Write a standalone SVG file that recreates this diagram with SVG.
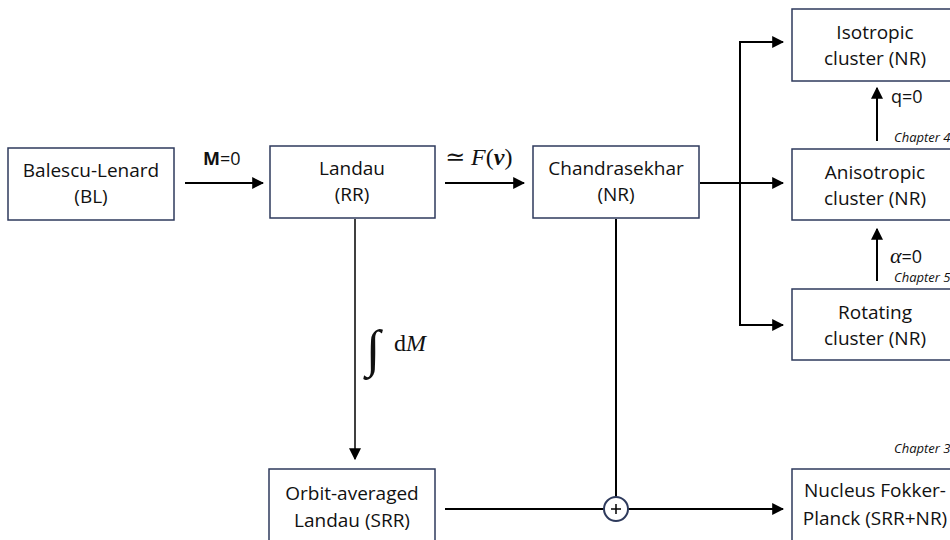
<svg xmlns="http://www.w3.org/2000/svg" width="950" height="540" viewBox="0 0 950 540">
<style>
.box{fill:#fff;stroke:#2e3a5c;stroke-width:1.5}
.t{font-family:"Open Sans","Liberation Sans",sans-serif;font-size:19px;fill:#111;text-anchor:middle}
.lbl{font-family:"Open Sans","Liberation Sans",sans-serif;font-size:18px;fill:#111}
.ch{font-family:"Open Sans","Liberation Sans",sans-serif;font-size:13px;font-style:italic;fill:#111}
.m{font-family:"Liberation Serif","DejaVu Serif",serif;fill:#111}
.ln{fill:none;stroke:#000;stroke-width:2}
.thin{fill:none;stroke:#000;stroke-width:1.5}
</style>
<defs>
<marker id="ah" viewBox="0 0 10 10" refX="9" refY="5" markerWidth="6" markerHeight="6" orient="auto" markerUnits="strokeWidth">
<path d="M0,0 L10,5 L0,10 z" fill="#000"/>
</marker>
<marker id="ahs" viewBox="0 0 10 10" refX="9" refY="5" markerWidth="8" markerHeight="8" orient="auto" markerUnits="strokeWidth">
<path d="M0,0 L10,5 L0,10 z" fill="#000"/>
</marker>
</defs>
<rect width="950" height="540" fill="#fff"/>
<g id="connectors">
<line class="ln" x1="185" y1="183" x2="263" y2="183" marker-end="url(#ah)"/>
<line class="ln" x1="445" y1="183" x2="524" y2="183" marker-end="url(#ah)"/>
<line class="ln" x1="700" y1="183" x2="783" y2="183" marker-end="url(#ah)"/>
<polyline class="ln" points="740,325 740,42 783,42" marker-end="url(#ah)"/>
<polyline class="ln" points="740,183 740,325 783,325" marker-end="url(#ah)"/>
<line class="ln" x1="877" y1="141" x2="877" y2="88" marker-end="url(#ah)"/>
<line class="ln" x1="877" y1="281" x2="877" y2="229" marker-end="url(#ah)"/>
<line class="thin" x1="355" y1="219" x2="355" y2="459" marker-end="url(#ahs)"/>
<line class="ln" x1="616" y1="219" x2="616" y2="497"/>
<line class="ln" x1="445" y1="509" x2="604" y2="509"/>
<line class="ln" x1="628" y1="509" x2="783" y2="509" marker-end="url(#ah)"/>
<g id="sum">
<circle cx="616" cy="509" r="12" fill="#fff" stroke="#2e3a5c" stroke-width="2"/>
<line x1="611" y1="509" x2="621" y2="509" stroke="#000" stroke-width="1.5"/>
<line x1="616" y1="504" x2="616" y2="514" stroke="#000" stroke-width="1.5"/>
</g>
<text class="lbl" x="203" y="165"><tspan font-weight="bold">M</tspan>=0</text>
<text class="m" x="445" y="165" font-size="24">≃ <tspan font-style="italic">F</tspan>(<tspan font-style="italic" font-weight="bold">v</tspan>)</text>
<text class="m" x="366" y="366" font-size="52" font-style="italic">∫</text>
<text class="m" x="394" y="351" font-size="24">d<tspan font-style="italic">M</tspan></text>
<text class="lbl" x="891" y="103">q=0</text>
<text class="ch" x="894" y="142">Chapter 4</text>
<text class="lbl" x="890" y="263"><tspan class="m" font-style="italic" font-size="22">α</tspan>=0</text>
<text class="ch" x="894" y="282">Chapter 5</text>
<text class="ch" x="894" y="453">Chapter 3</text>
</g>
<g id="bl"><rect class="box" x="8" y="148" width="166" height="72"/><text class="t" x="91" y="177">Balescu-Lenard</text><text class="t" x="91" y="203">(BL)</text></g>
<g id="landau"><rect class="box" x="270" y="146" width="165" height="72"/><text class="t" x="352" y="175">Landau</text><text class="t" x="352" y="201">(RR)</text></g>
<g id="chandra"><rect class="box" x="533" y="146" width="166" height="72"/><text class="t" x="616" y="175">Chandrasekhar</text><text class="t" x="616" y="201">(NR)</text></g>
<g id="iso"><rect class="box" x="792" y="9" width="166" height="72"/><text class="t" x="875" y="39">Isotropic</text><text class="t" x="875" y="65">cluster (NR)</text></g>
<g id="aniso"><rect class="box" x="792" y="149" width="166" height="71"/><text class="t" x="875" y="179">Anisotropic</text><text class="t" x="875" y="205">cluster (NR)</text></g>
<g id="rot"><rect class="box" x="792" y="289" width="166" height="71"/><text class="t" x="875" y="319">Rotating</text><text class="t" x="875" y="345">cluster (NR)</text></g>
<g id="orbit"><rect class="box" x="269" y="469" width="166" height="80"/><text class="t" x="352" y="500">Orbit-averaged</text><text class="t" x="352" y="527">Landau (SRR)</text></g>
<g id="nucleus"><rect class="box" x="792" y="469" width="166" height="80"/><text class="t" x="875" y="497">Nucleus Fokker-</text><text class="t" x="875" y="525">Planck (SRR+NR)</text></g>
</svg>
